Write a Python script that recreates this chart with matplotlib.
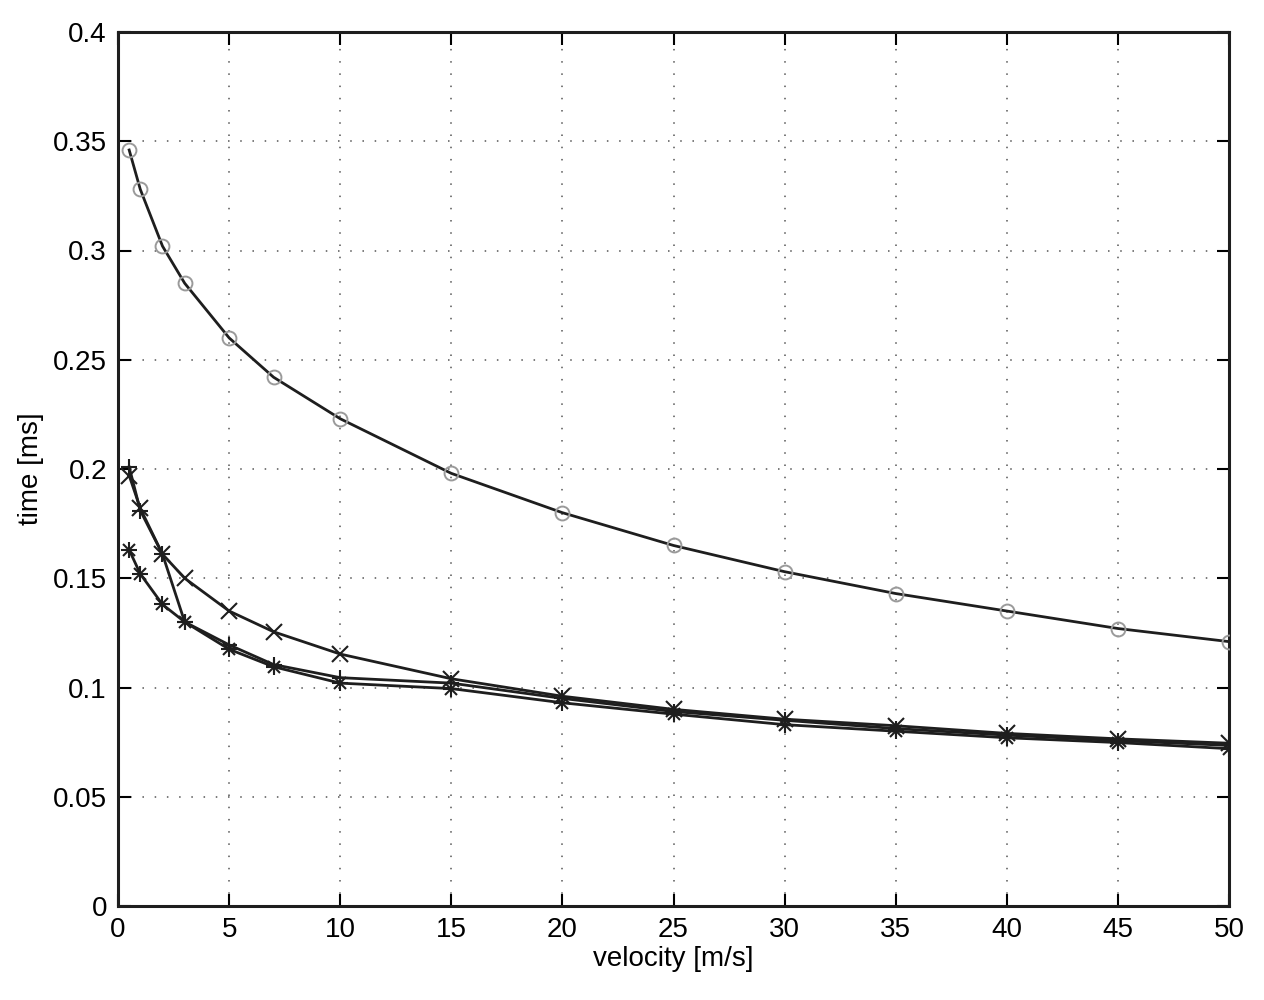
import matplotlib
matplotlib.use('Agg')
import matplotlib.pyplot as plt

plt.rcParams['font.family'] = ['Liberation Sans', 'DejaVu Sans']

# velocities [m/s]
velocity = [0.5, 1, 2, 3, 5, 7, 10, 15, 20, 25, 30, 35, 40, 45, 50]

# times [ms]
t_circle = [0.346, 0.328, 0.302, 0.285, 0.260, 0.242, 0.223, 0.198, 0.180,
            0.165, 0.153, 0.143, 0.135, 0.127, 0.121]
t_cross = [0.197, 0.182, 0.161, 0.150, 0.135, 0.1255, 0.1153, 0.104, 0.096,
           0.0900, 0.0855, 0.0825, 0.0790, 0.0765, 0.0745]
t_plus = [0.201, 0.181, 0.161, 0.130, 0.1195, 0.1105, 0.1045, 0.102, 0.095,
          0.0890, 0.0850, 0.0812, 0.0782, 0.0757, 0.0735]
t_star = [0.163, 0.152, 0.138, 0.130, 0.1175, 0.1095, 0.1020, 0.0995, 0.0930,
          0.0878, 0.0830, 0.0800, 0.0770, 0.0748, 0.0720]

xticks = list(range(0, 51, 5))
yticks = [0, 0.05, 0.1, 0.15, 0.2, 0.25, 0.3, 0.35, 0.4]
ytick_labels = ['0', '0.05', '0.1', '0.15', '0.2', '0.25', '0.3', '0.35', '0.4']

dark = '#1e1e1e'

fig = plt.figure(figsize=(12.64, 10.0), dpi=100)
ax = fig.add_axes([0.0934, 0.094, 0.8789, 0.874])

# circle series: dark line, light grey open circles
ax.plot(velocity, t_circle, color=dark, lw=2.0, zorder=3)
ax.plot(velocity, t_circle, 'o', mfc='none', mec='#9a9a9a', ms=10, mew=1.4, zorder=4)

ax.plot(velocity, t_cross, '-x', color=dark, lw=2.0, ms=11, mew=1.5, zorder=3)
ax.plot(velocity, t_plus, '-+', color=dark, lw=2.0, ms=12, mew=1.5, zorder=3)

# asterisk = plus + cross drawn on the same points (matlab style)
ax.plot(velocity, t_star, '-', color=dark, lw=2.0, zorder=3)
ax.plot(velocity, t_star, '+', color=dark, ms=12, mew=1.5, zorder=4)
ax.plot(velocity, t_star, 'x', color=dark, ms=9, mew=1.5, zorder=4)

ax.set_xlim(0, 50)
ax.set_ylim(0, 0.4)
ax.set_xticks(xticks)
ax.set_yticks(yticks)
ax.set_yticklabels(ytick_labels)
ax.grid(True, linestyle=(0, (1, 7)), color='#555555', lw=1.1)
ax.tick_params(direction='in', length=9, width=1.5, labelsize=20, pad=8,
               top=True, right=True)
for s in ax.spines.values():
    s.set_linewidth(2.2)
    s.set_color(dark)

ax.set_xlabel('velocity [m/s]', fontsize=20, labelpad=2)
ax.set_ylabel('time [ms]', fontsize=20, labelpad=6)

fig.savefig('out.png', dpi=100)
